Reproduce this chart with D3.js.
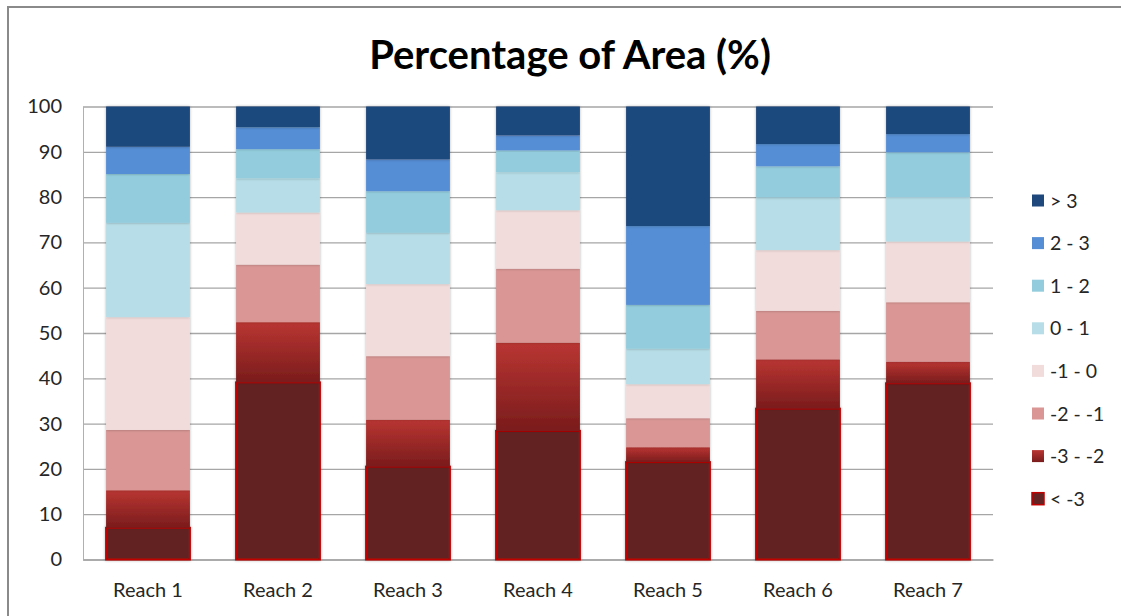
<!DOCTYPE html>
<html>
<head>
<meta charset="utf-8">
<script src="https://cdn.jsdelivr.net/npm/d3@7"></script>
<style>
  html, body { margin: 0; padding: 0; background: #fff; }
  svg { display: block; font-family: Lato, "Open Sans", "Liberation Sans", sans-serif; }
</style>
</head>
<body>
<svg id="chart" width="1121" height="616"></svg>
<script>
// Reaches along the river
const reaches = ["Reach 1", "Reach 2", "Reach 3", "Reach 4", "Reach 5", "Reach 6", "Reach 7"];

// Change classes, stacked bottom to top
const classes = ["< -3", "-3 - -2", "-2 - -1", "-1 - 0", "0 - 1", "1 - 2", "2 - 3", "> 3"];

// Percentage of area in each class, one array per class (Reach 1..7)
const lt_m3   = [7.0, 39.1, 20.5, 28.4, 21.5, 33.3, 38.9];
const m3_m2   = [8.3, 13.3, 10.4, 19.5, 3.3, 10.9, 4.8];
const m2_m1   = [13.3, 12.7, 14.0, 16.3, 6.4, 10.7, 13.1];
const m1_0    = [24.9, 11.5, 15.9, 12.9, 7.5, 13.4, 13.4];
const p0_1    = [20.8, 7.5, 11.3, 8.4, 7.8, 11.6, 9.8];
const p1_2    = [10.8, 6.5, 9.2, 4.8, 9.7, 6.9, 9.9];
const p2_3    = [6.0, 4.8, 7.0, 3.3, 17.4, 4.9, 4.0];
const gt_3    = [8.9, 4.6, 11.7, 6.4, 26.4, 8.3, 6.1];

const yTicks = [0, 10, 20, 30, 40, 50, 60, 70, 80, 90, 100];

const colors = ["#632423", "url(#gradRed)", "#d99694", "#f2dcdb", "#b7dee8", "#93cddd", "#558ed5", "#1f497d"];
const legendSwatch = ["#632423", "url(#gradRed)", "#d99694", "#f2dcdb", "#b7dee8", "#93cddd", "#558ed5", "#1f497d"];

const seriesValues = [lt_m3, m3_m2, m2_m1, m1_0, p0_1, p1_2, p2_3, gt_3];

const rows = reaches.map((r, i) => {
  const o = { reach: r };
  classes.forEach((c, k) => { o[c] = seriesValues[k][i]; });
  return o;
});

const svg = d3.select("#chart");

// chart frame
svg.append("path")
  .attr("d", "M8,616 L8,7 L1121,7")
  .attr("fill", "none")
  .attr("stroke", "#8a8a8a")
  .attr("stroke-width", 2);

const defs = svg.append("defs");
const g1 = defs.append("linearGradient").attr("id", "gradRed")
  .attr("x1", 0).attr("y1", 0).attr("x2", 0).attr("y2", 1);
g1.append("stop").attr("offset", "0%").attr("stop-color", "#b93532");
g1.append("stop").attr("offset", "100%").attr("stop-color", "#7a1c1c");

const f = defs.append("filter").attr("id", "shadow")
  .attr("x", "-10%").attr("y", "-10%").attr("width", "120%").attr("height", "120%");
f.append("feGaussianBlur").attr("in", "SourceAlpha").attr("stdDeviation", 1.6).attr("result", "b");
f.append("feComponentTransfer").attr("in", "b").attr("result", "b2")
  .append("feFuncA").attr("type", "linear").attr("slope", 0.3);
const m = f.append("feMerge");
m.append("feMergeNode").attr("in", "b2");
m.append("feMergeNode").attr("in", "SourceGraphic");

const plotLeft = 83, plotRight = 993, plotTop = 106.5, plotBottom = 559.5;

const x = d3.scaleBand().domain(reaches).range([plotLeft, plotRight]).paddingInner(0.355).paddingOuter(0.1775);
const y = d3.scaleLinear().domain([0, 100]).range([plotBottom, plotTop]);

// title
svg.append("text")
  .attr("x", 570).attr("y", 69)
  .attr("text-anchor", "middle")
  .attr("font-size", 40).attr("font-weight", "bold")
  .attr("fill", "#000")
  .text("Percentage of Area (%)");

// gridlines
const grid = svg.append("g").attr("transform", `translate(${plotLeft},0)`)
  .call(d3.axisLeft(y).tickValues(yTicks).tickSize(-(plotRight - plotLeft)).tickFormat(""));
grid.select(".domain").remove();
grid.selectAll(".tick line").attr("stroke", "#a6a6a6").attr("stroke-width", 1.3);

// y axis labels
const ya = svg.append("g").attr("transform", `translate(${plotLeft},0)`)
  .call(d3.axisLeft(y).tickValues(yTicks).tickSize(0).tickPadding(21));
ya.select(".domain").attr("stroke", "#b0b0b0").attr("stroke-width", 1);
ya.selectAll("text").attr("font-size", 20).attr("fill", "#262626").attr("font-family", "Lato, sans-serif");

// x axis labels
const xa = svg.append("g").attr("transform", `translate(0,${plotBottom})`)
  .call(d3.axisBottom(x).tickSize(0).tickPadding(23));
xa.select(".domain").attr("stroke", "#a6a6a6").attr("stroke-width", 1.3);
xa.selectAll("text").attr("font-size", 20).attr("fill", "#262626").attr("font-family", "Lato, sans-serif");

// stacked bars
const stack = d3.stack().keys(classes)(rows);
const layers = svg.append("g").selectAll("g").data(stack).join("g")
  .attr("fill", (d, i) => colors[i]);

layers.each(function (layer, i) {
  d3.select(this).selectAll("rect").data(layer).join("rect")
    .attr("x", d => x(d.data.reach))
    .attr("width", x.bandwidth())
    .attr("y", d => y(d[1]))
    .attr("height", d => y(d[0]) - y(d[1]))
    .attr("filter", "url(#shadow)")
    .attr("stroke", i === 0 ? "#c00000" : "none")
    .attr("stroke-width", i === 0 ? 2 : 0);
});

// legend, top entry is the last class
const legend = svg.append("g");
const order = classes.map((c, i) => i).reverse();
order.forEach((k, j) => {
  const cy = 200.5 + j * 42.6;
  legend.append("rect")
    .attr("x", 1032).attr("y", cy - 6).attr("width", 12).attr("height", 12)
    .attr("fill", legendSwatch[k])
    .attr("stroke", k === 0 ? "#c00000" : "none")
    .attr("stroke-width", k === 0 ? 1.5 : 0);
  legend.append("text")
    .attr("x", 1050).attr("y", cy + 7)
    .attr("font-size", 19.5).attr("fill", "#262626")
    .text(classes[k]);
});
</script>
</body>
</html>
